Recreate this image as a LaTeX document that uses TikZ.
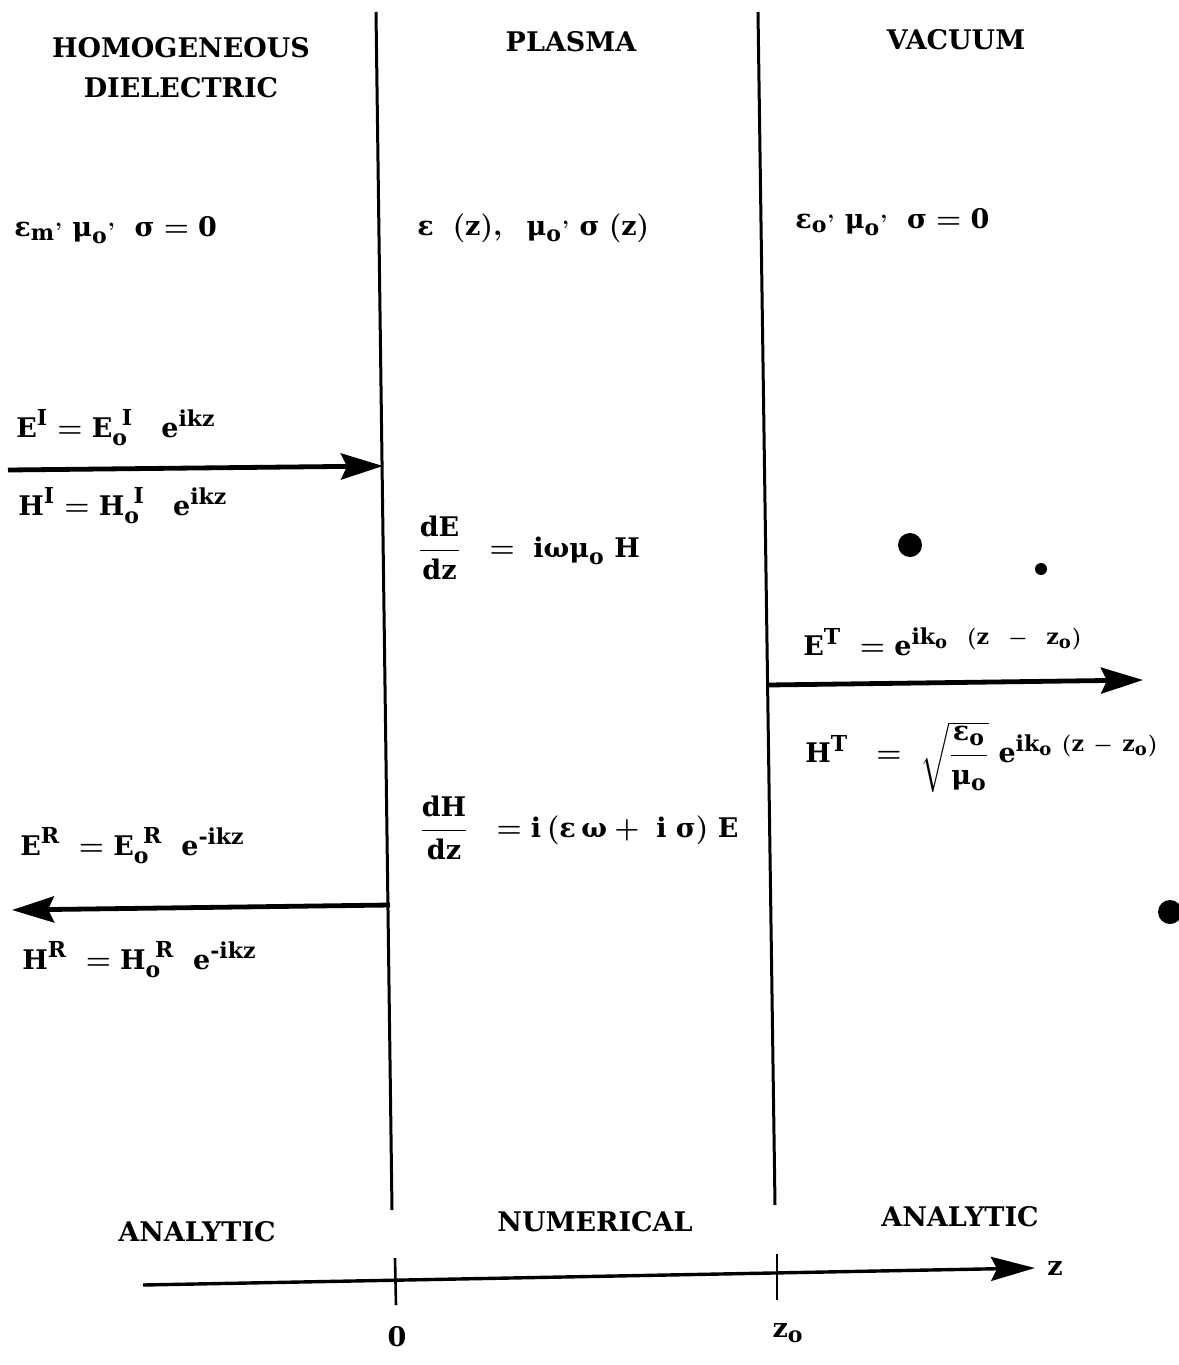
\documentclass[tikz,border=0pt]{standalone}
\usepackage{amsmath}
\usepackage{fontspec}
\setmainfont{DejaVu Serif}
\DeclareMathSizes{13.5}{13.5}{11}{9}
\usepackage{tikz}
\usetikzlibrary{arrows.meta,positioning}
\tikzset{
  wall/.style={line width=1.5pt},
  wave/.style={-{Stealth[length=21pt,width=13pt,inset=3pt]}, line width=2.4pt},
  zaxis/.style={-{Stealth[length=22pt,width=12pt,inset=3pt]}, line width=1.7pt},
  tickmark/.style={line width=1.3pt},
  lbl/.style={font=\bfseries\boldmath\fontsize{13.5}{20}\selectfont, inner sep=0pt},
  region/.style={lbl, align=center},
  blob/.style={circle, fill=black, inner sep=0pt},
}
\newcommand{\bb}[1]{\text{\bfseries #1}}

\begin{document}
\begin{tikzpicture}[x=0.5pt, y=-0.5pt]
  \useasboundingbox (0,0) rectangle (1178,1365);

  % region boundaries
  \coordinate (wallAtop) at (376,12);
  \coordinate (wallAbot) at (392,1210);
  \coordinate (wallBtop) at (758,12);
  \coordinate (wallBbot) at (775,1205);
  \draw[wall] (wallAtop) -- (wallAbot);
  \draw[wall] (wallBtop) -- (wallBbot);

  % region titles
  \node[region] (dielectric) at (181,68) {HOMOGENEOUS\\DIELECTRIC};
  \node[region] (plasma)     at (571,42) {PLASMA};
  \node[region] (vacuum)     at (956,40) {VACUUM};

  % medium parameters
  \node[lbl,anchor=west] (parmA) at (14,230)  {$\bb{ε}_{\bb{m}}{}^{,}\ \bb{μ}_{\bb{o}}{}^{,}\ \ \bb{σ} = \bb{0}$};
  \node[lbl,anchor=west] (parmB) at (417,228) {$\bb{ε}\ \ (\bb{z}),\ \ \bb{μ}_{\bb{o}}{}^{,}\ \bb{σ}\ (\bb{z})$};
  \node[lbl,anchor=west] (parmC) at (795,222) {$\bb{ε}_{\bb{o}}{}^{,}\ \bb{μ}_{\bb{o}}{}^{,}\ \ \bb{σ} = \bb{0}$};

  % incident wave
  \coordinate (incS) at (8,470);
  \coordinate (incE) at (383,466);
  \draw[wave] (incS) -- (incE);
  \node[lbl,anchor=west] (incE1) at (16,428) {$\bb{E}^{\bb{I}} = \bb{E}_{\bb{o}}^{\ \bb{I}}\ \ \ \bb{e}^{\bb{ikz}}$};
  \node[lbl,anchor=west] (incH1) at (18,506) {$\bb{H}^{\bb{I}} = \bb{H}_{\bb{o}}^{\ \bb{I}}\ \ \ \bb{e}^{\bb{ikz}}$};

  % reflected wave
  \coordinate (refS) at (390,905);
  \coordinate (refE) at (12,910);
  \draw[wave] (refS) -- (refE);
  \node[lbl,anchor=west] (refE1) at (20,846) {$\bb{E}^{\bb{R}}\ = \bb{E}_{\bb{o}}^{\ \bb{R}}\ \ \bb{e}^{\bb{-ikz}}$};
  \node[lbl,anchor=west] (refH1) at (22,960) {$\bb{H}^{\bb{R}}\ = \bb{H}_{\bb{o}}^{\ \bb{R}}\ \ \bb{e}^{\bb{-ikz}}$};

  % plasma equations
  \node[lbl,anchor=west] (eqE) at (417,548) {$\dfrac{\bb{dE}}{\bb{dz}}\ \ = \ \bb{iωμ}_{\bb{o}}\ \bb{H}$};
  \node[lbl,anchor=west] (eqH) at (419,828) {$\dfrac{\bb{dH}}{\bb{dz}}\ \ = \bb{i}\,(\bb{ε}\,\bb{ω} + \ \bb{i}\ \bb{σ})\ \bb{E}$};

  % transmitted wave
  \coordinate (trnS) at (768,685);
  \coordinate (trnE) at (1143,680);
  \draw[wave] (trnS) -- (trnE);
  \node[lbl,anchor=west] (trnE1) at (803,642) {$\bb{E}^{\bb{T}}\ = \bb{e}^{\bb{ik}_{\bb{o}}\ \ (\bb{z}\ \ -\ \ \bb{z}_{\bb{o}})}$};
  \node[lbl,anchor=west] (trnH1) at (805,757) {$\bb{H}^{\bb{T}}\ \ = \ \sqrt{\dfrac{\bb{ε}_{\bb{o}}}{\bb{μ}_{\bb{o}}}}\ \bb{e}^{\bb{ik}_{\bb{o}}\ (\bb{z}\ -\ \bb{z}_{\bb{o}})}$};

  % spots
  \node[blob,minimum size=12pt] (spotA) at (910,545) {};
  \node[blob,minimum size=6pt]  (spotB) at (1041,569) {};
  \node[blob,minimum size=12pt] (spotC) at (1170,912) {};

  % method labels
  \node[lbl] (anaA) at (197,1232) {ANALYTIC};
  \node[lbl] (numr) at (595,1222) {NUMERICAL};
  \node[lbl] (anaB) at (960,1217) {ANALYTIC};

  % z axis
  \coordinate (axS) at (143,1285);
  \coordinate (axE) at (1035,1268);
  \draw[zaxis] (axS) -- (axE);
  \node[lbl,anchor=west] (zlab) at (1047,1268) {$\bb{z}$};
  \coordinate (tkAt) at (395,1258);
  \coordinate (tkAb) at (396,1305);
  \coordinate (tkBt) at (777,1254);
  \coordinate (tkBb) at (777,1300);
  \draw[tickmark] (tkAt) -- (tkAb);
  \draw[tickmark] (tkBt) -- (tkBb);
  \node[lbl] (zero) at (397,1337) {$\bb{0}$};
  \node[lbl] (zend) at (788,1333) {$\bb{z}_{\bb{o}}$};
\end{tikzpicture}
\end{document}
